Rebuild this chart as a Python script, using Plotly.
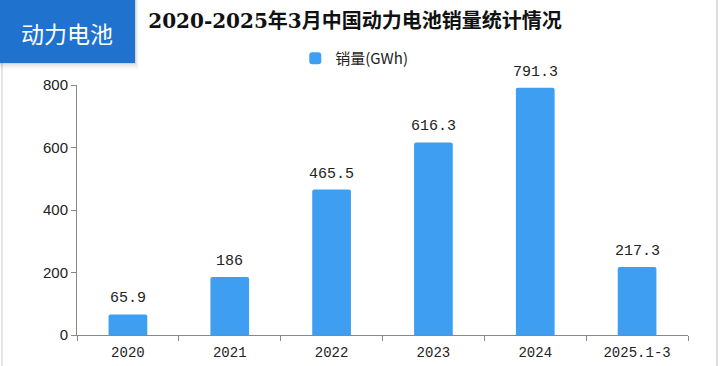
import plotly.graph_objects as go

categories = ["2020", "2021", "2022", "2023", "2024", "2025.1-3"]
sales = [65.9, 186, 465.5, 616.3, 791.3, 217.3]
labels = ["65.9", "186", "465.5", "616.3", "791.3", "217.3"]
yticks = [0, 200, 400, 600, 800]

L, R, T, B = 77, 35, 85, 31
W, H = 723, 366
PW, PH = W - L - R, H - T - B

def px(x):
    return (x - L) / PW

def py(y):
    return (H - B - y) / PH

fig = go.Figure()
fig.add_trace(go.Bar(
    x=categories, y=sales, name="销量(GWh)",
    marker=dict(color="#3d9ef2", cornerradius=2, line=dict(width=0)),
    width=0.38,
))
for i, (v, t) in enumerate(zip(sales, labels)):
    fig.add_annotation(x=i, y=v, text=t, showarrow=False, yanchor="bottom", yshift=5,
                       font=dict(family="Liberation Mono", size=15, color="#222"))

fig.update_layout(
    width=W, height=H,
    margin=dict(l=L, r=R, t=T, b=B, autoexpand=False),
    paper_bgcolor="white", plot_bgcolor="white",
    showlegend=True,
    legend=dict(orientation="h", x=0.49, xanchor="center", y=0.84, yanchor="middle",
                yref="container", xref="container",
                font=dict(family="Noto Sans CJK SC", size=15, color="#222"),
                bgcolor="rgba(0,0,0,0)"),
    title=dict(text="<b>2020-2025年3月中国动力电池销量统计情况</b>", x=0.491, xanchor="center",
               y=0.943, yanchor="middle",
               font=dict(family="DejaVu Serif, Noto Sans CJK SC", size=20, color="#111")),
)
fig.update_xaxes(type="category", range=[-0.5, 5.5], showline=True, linecolor="#888", linewidth=1,
                 ticks="outside", ticklen=5, automargin=False, ticklabelstandoff=4,
                 tickcolor="#888", tickson="boundaries", showgrid=False, tickangle=0,
                 tickfont=dict(family="Liberation Mono", size=14, color="#222"))
fig.update_yaxes(range=[0, 800], tickvals=yticks, showline=True, linecolor="#888", linewidth=1,
                 ticks="outside", ticklen=5, tickcolor="#888", showgrid=False, zeroline=False,
                 automargin=False,
                 tickfont=dict(family="Liberation Sans", size=15, color="#222"))

# frame lines
fig.add_shape(type="line", xref="paper", yref="paper", x0=px(2), x1=px(2), y0=py(366), y1=py(63),
              line=dict(color="#cccccc", width=1))
fig.add_shape(type="line", xref="paper", yref="paper", x0=px(717), x1=px(717), y0=py(366), y1=py(0),
              line=dict(color="#bbbbbb", width=1))
# badge shadow
for i, a in enumerate([0.08, 0.05, 0.03, 0.015]):
    fig.add_shape(type="rect", xref="paper", yref="paper",
                  x0=px(0), x1=px(136 + i), y0=py(64 + 2 * i), y1=py(0),
                  fillcolor=f"rgba(0,0,0,{a})", line=dict(width=0), layer="above")
fig.add_shape(type="rect", xref="paper", yref="paper", x0=px(0), x1=px(135),
              y0=py(63), y1=py(0), fillcolor="#1f73cf", line=dict(width=0), layer="above")
fig.add_annotation(xref="paper", yref="paper", x=px(67), y=py(33), text="动力电池",
                   showarrow=False, xanchor="center", yanchor="middle",
                   font=dict(family="Noto Sans CJK SC", size=23, color="white"))

fig.write_html("out.html", config={"displayModeBar": False},
               post_script="document.body.style.margin='0px';")
